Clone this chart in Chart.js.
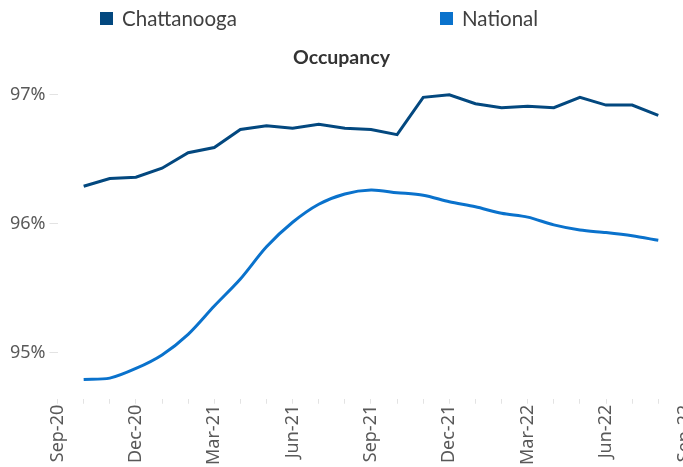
<!DOCTYPE html>
<html>
<head>
<meta charset="utf-8">
<script src="https://cdn.jsdelivr.net/npm/chart.js@4"></script>
<style>
  html, body { margin: 0; padding: 0; background: #fff; overflow: hidden; }
  #wrap { position: relative; width: 707px; height: 467px; }
  #legend { position: absolute; top: 6px; left: 0; width: 683px; height: 24px;
            font-family: Lato, sans-serif; font-size: 20.5px; color: #404040; }
  .item { position: absolute; top: 0; line-height: 24px; display: flex; align-items: center; white-space: nowrap; }
  .box { width: 13px; height: 13px; margin-right: 9px; }
  #title { position: absolute; top: 45px; left: 0; width: 683px; text-align: center;
           font-family: Lato, sans-serif; font-size: 19.5px; font-weight: bold; color: #333; line-height: 24px; }
</style>
</head>
<body>
<div id="wrap">
  <canvas id="occChart"></canvas>
  <div id="legend"></div>
  <div id="title">Occupancy</div>
</div>
<script>
// axis months, one label every month, shown every third
const months = ['Sep-20', 'Oct-20', 'Nov-20', 'Dec-20', 'Jan-21', 'Feb-21', 'Mar-21', 'Apr-21', 'May-21',
  'Jun-21', 'Jul-21', 'Aug-21', 'Sep-21', 'Oct-21', 'Nov-21', 'Dec-21', 'Jan-22', 'Feb-22', 'Mar-22',
  'Apr-22', 'May-22', 'Jun-22', 'Jul-22', 'Aug-22', 'Sep-22'];

// months that carry a data point
const pointMonths = months.slice(1, 24);

const chattanooga = [96.29, 96.35, 96.36, 96.43, 96.55, 96.59, 96.73, 96.76, 96.74, 96.77, 96.74, 96.73,
  96.69, 96.98, 97.00, 96.93, 96.90, 96.91, 96.90, 96.98, 96.92, 96.92, 96.84];
const national = [94.79, 94.80, 94.875, 94.98, 95.14, 95.36, 95.57, 95.82, 96.01, 96.15, 96.23, 96.26,
  96.24, 96.22, 96.17, 96.13, 96.08, 96.05, 95.99, 95.95, 95.93, 95.905, 95.87];

const yTicks = [95, 96, 97];

const tickFont = { family: '"Noto Sans", sans-serif', size: 18 };

const ctx = document.getElementById('occChart').getContext('2d');
const chart = new Chart(ctx, {
    type: 'line',
    data: {
        labels: months,
        datasets: [{
            label: 'Chattanooga',
            data: pointMonths.map((m, i) => ({ x: m, y: chattanooga[i] })),
            borderColor: '#03487f',
            backgroundColor: '#03487f',
            borderWidth: 3,
            pointRadius: 0,
            tension: 0
        }, {
            label: 'National',
            data: pointMonths.map((m, i) => ({ x: m, y: national[i] })),
            borderColor: '#0a72cc',
            backgroundColor: '#0a72cc',
            borderWidth: 3,
            pointRadius: 0,
            tension: 0.3
        }]
    },
    options: {
        responsive: true,
        maintainAspectRatio: false,
        animation: false,
        layout: { padding: { top: 69, left: 6, right: 0, bottom: 1 } },
        plugins: {
            legend: { display: false },
            tooltip: { enabled: false },
            title: { display: false }
        },
        scales: {
            x: {
                type: 'category',
                grid: { display: true, drawOnChartArea: false, drawTicks: true, tickLength: 5, color: '#e3e3e3' },
                border: { display: false },
                ticks: {
                    autoSkip: false,
                    minRotation: 90,
                    maxRotation: 90,
                    padding: 1,
                    color: '#595959',
                    font: tickFont,
                    callback: (v, i) => (i % 3 === 0 ? months[i] : '')
                }
            },
            y: {
                min: 94.64,
                max: 97.2,
                afterBuildTicks: axis => { axis.ticks = yTicks.map(v => ({ value: v })); },
                grid: { display: true, drawOnChartArea: false, drawTicks: true, tickLength: 8, color: '#e3e3e3' },
                border: { display: false },
                ticks: {
                    padding: 4,
                    color: '#595959',
                    font: tickFont,
                    callback: v => v + '%'
                }
            }
        }
    }
});

// legend in the page, built from the datasets
const legendLeft = [100, 440];
const legendEl = document.getElementById('legend');
chart.data.datasets.forEach((ds, i) => {
    const item = document.createElement('div');
    item.className = 'item';
    item.style.left = legendLeft[i] + 'px';
    const box = document.createElement('span');
    box.className = 'box';
    box.style.background = ds.backgroundColor;
    const txt = document.createElement('span');
    txt.textContent = ds.label;
    item.appendChild(box);
    item.appendChild(txt);
    legendEl.appendChild(item);
});
</script>
</body>
</html>
